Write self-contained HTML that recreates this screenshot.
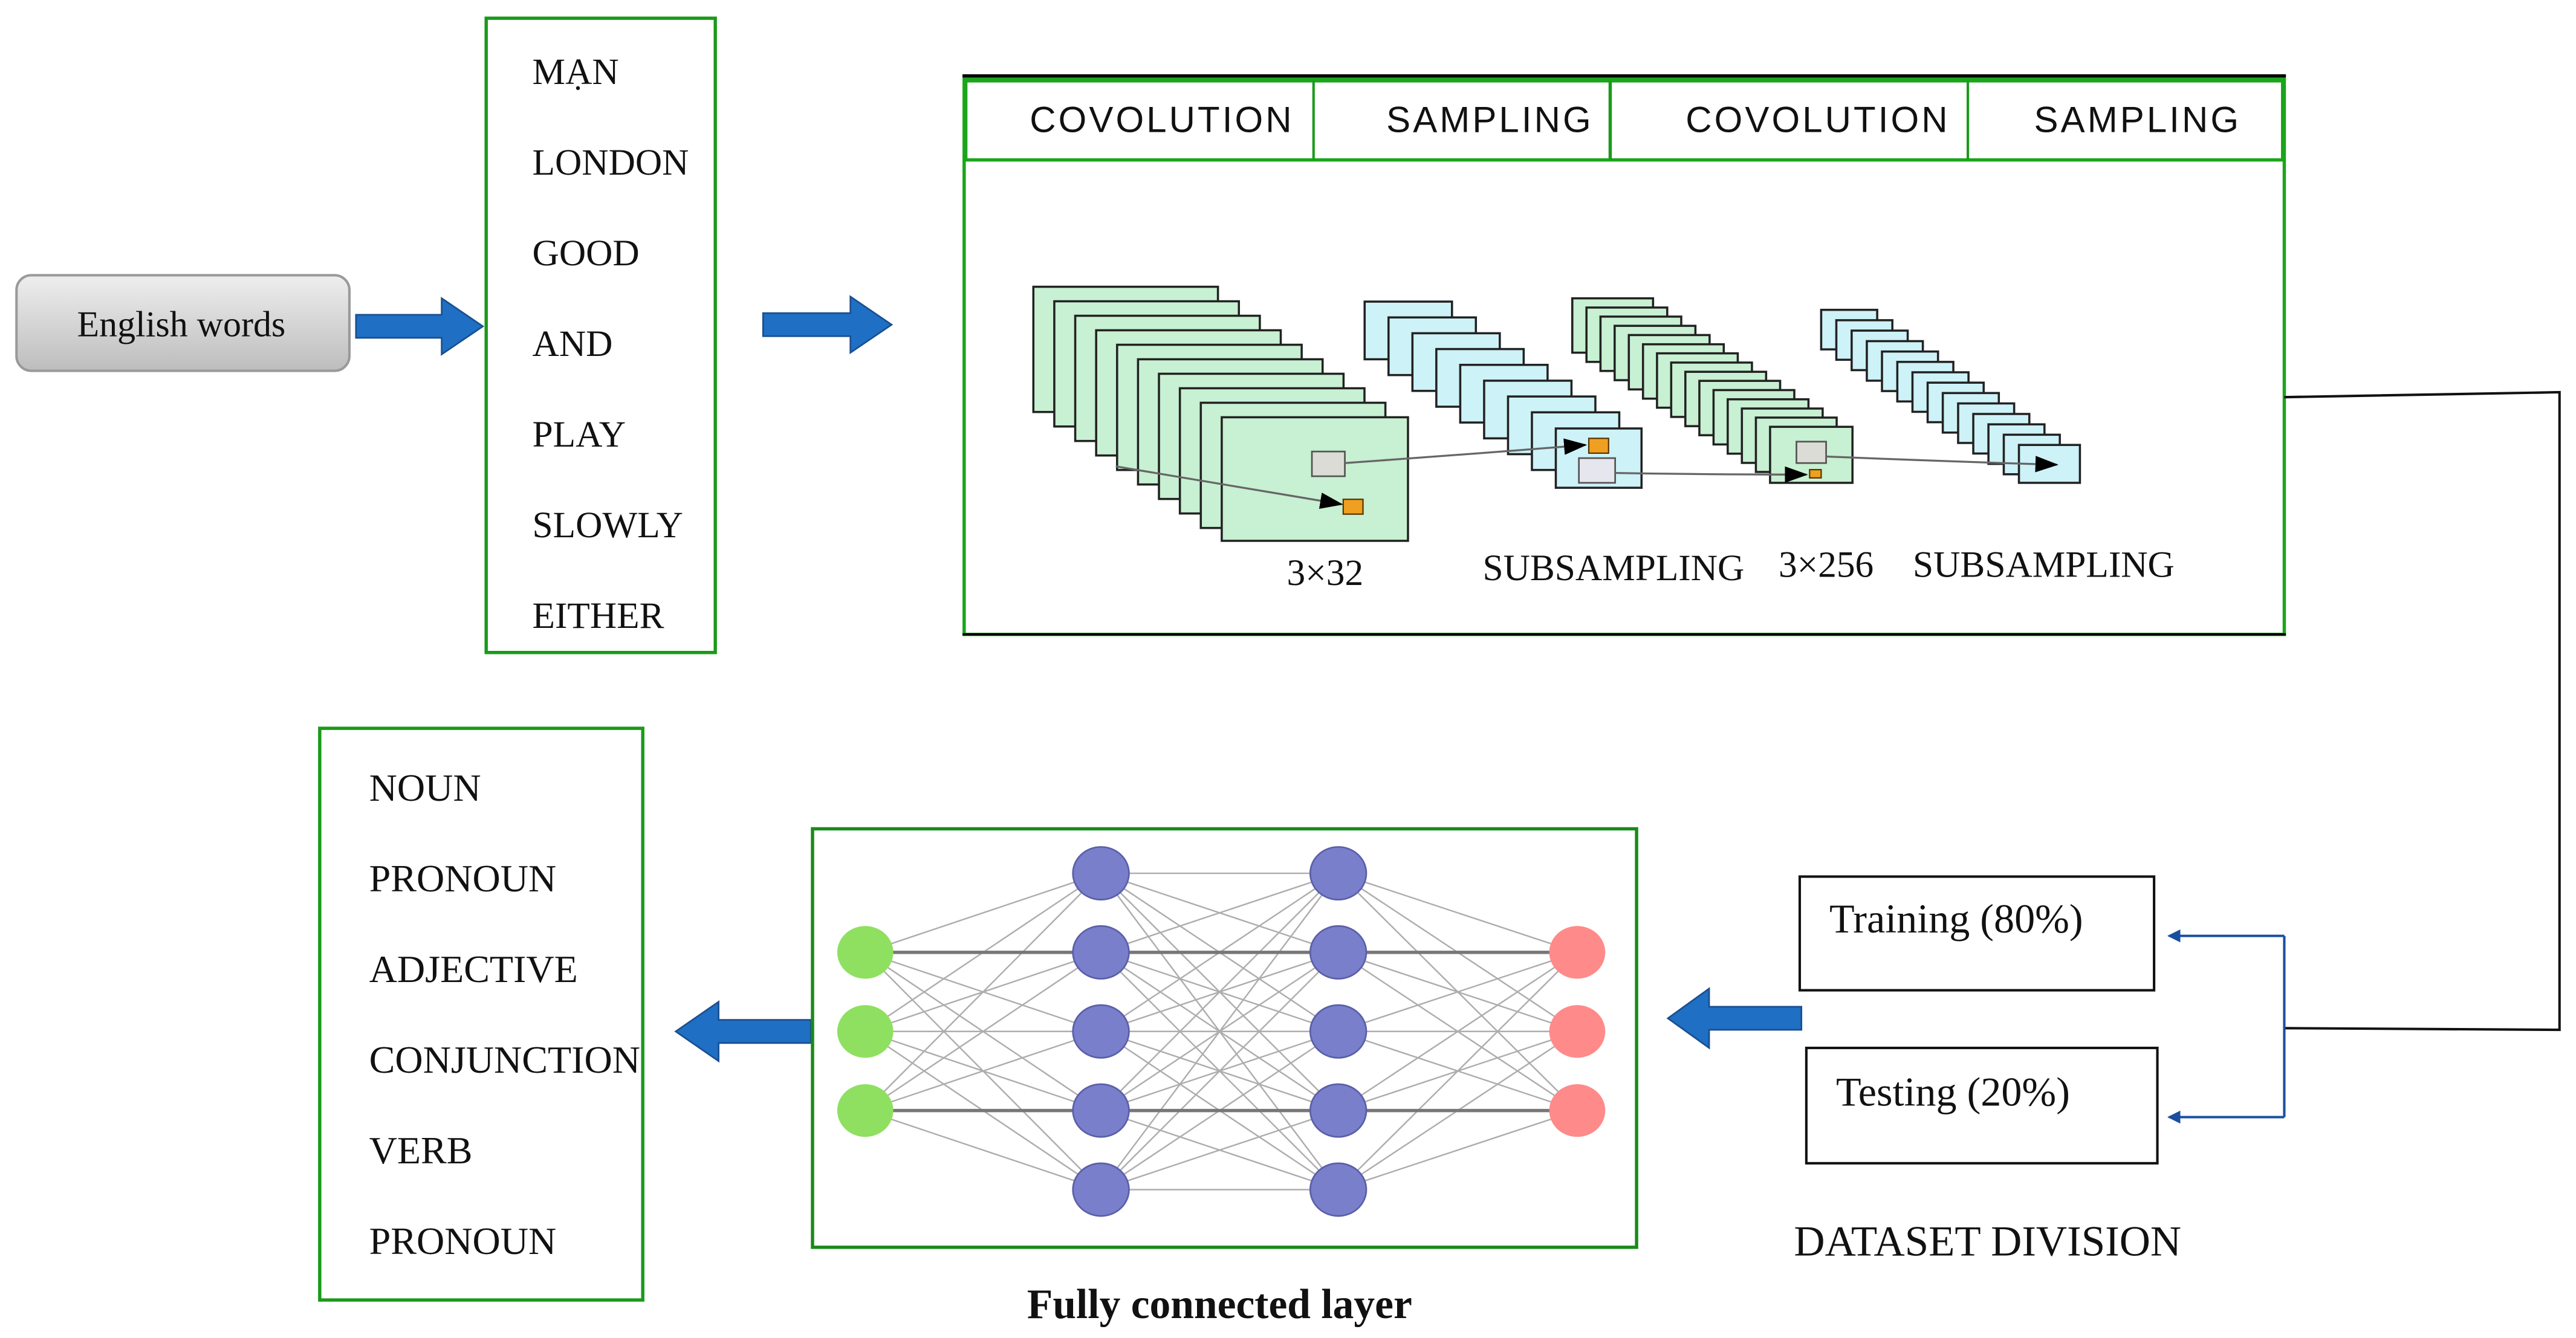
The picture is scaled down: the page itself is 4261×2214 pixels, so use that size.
<!DOCTYPE html>
<html><head><meta charset="utf-8"><style>html,body{margin:0;padding:0;background:#fff}svg{display:block}</style></head>
<body>
<svg width="4261" height="2214" viewBox="0 0 1563 812" xmlns="http://www.w3.org/2000/svg" font-family="Liberation Serif, serif">
<defs>
<linearGradient id="btn" x1="0" y1="0" x2="0" y2="1"><stop offset="0" stop-color="#eeeeee"/><stop offset="1" stop-color="#bdbdbd"/></linearGradient>
<marker id="ah" markerWidth="8" markerHeight="8" refX="7" refY="4" orient="auto" markerUnits="userSpaceOnUse"><path d="M0,0 L8,4 L0,8 z" fill="#1a4fa0"/></marker>
<marker id="bh" markerWidth="14" markerHeight="10" refX="13" refY="5" orient="auto" markerUnits="userSpaceOnUse"><path d="M0,0 L14,5 L0,10 z" fill="#000"/></marker>
</defs>
<rect width="1563" height="812" fill="#fff"/>
<rect x="10" y="167" width="202" height="58" rx="9" fill="url(#btn)" stroke="#9a9a9a" stroke-width="1.5"/>
<text x="110" y="204" font-size="22" text-anchor="middle" fill="#111">English words</text>
<path d="M216,191 L268,191 L268,181 L293,198 L268,215 L268,205 L216,205 z" fill="#1f6fc4" stroke="#1a4f90" stroke-width="1"/>
<path d="M463,190 L516,190 L516,180 L541,197 L516,214 L516,204 L463,204 z" fill="#1f6fc4" stroke="#1a4f90" stroke-width="1"/>
<rect x="295" y="11" width="139" height="385" fill="#fff" stroke="#1a9a1a" stroke-width="2"/>
<g font-size="22.5" fill="#111">
<text x="323" y="51">MẠN</text><text x="323" y="106">LONDON</text><text x="323" y="161">GOOD</text><text x="323" y="216">AND</text><text x="323" y="271">PLAY</text><text x="323" y="326">SLOWLY</text><text x="323" y="381">EITHER</text>
</g>
<rect x="585" y="47" width="801" height="338" fill="#fff" stroke="#1aa51a" stroke-width="2"/>
<line x1="584" y1="46" x2="1387" y2="46" stroke="#000" stroke-width="2"/>
<line x1="584" y1="385" x2="1387" y2="385" stroke="#000" stroke-width="1.5"/>
<rect x="586" y="49" width="799" height="48" fill="none" stroke="#1aa51a" stroke-width="2"/>
<line x1="797" y1="49" x2="797" y2="97" stroke="#1a9a1a" stroke-width="1.5"/>
<line x1="977" y1="49" x2="977" y2="97" stroke="#1a9a1a" stroke-width="2"/>
<line x1="1194" y1="49" x2="1194" y2="97" stroke="#1a9a1a" stroke-width="1.5"/>
<g font-family="Liberation Sans, sans-serif" font-size="22" fill="#111" text-anchor="middle" letter-spacing="1.5">
<text x="705" y="80">COVOLUTION</text><text x="904" y="80">SAMPLING</text><text x="1103" y="80">COVOLUTION</text><text x="1297" y="80">SAMPLING</text>
</g>
<g stroke="#222" stroke-width="1.3">
<g fill="#c8f0d2">
<rect x="627" y="174" width="112" height="76"/><rect x="639.7" y="182.8" width="112" height="76"/><rect x="652.4" y="191.6" width="112" height="76"/><rect x="665.1" y="200.4" width="112" height="76"/><rect x="677.8" y="209.2" width="112" height="76"/><rect x="690.5" y="218" width="112" height="76"/><rect x="703.2" y="226.8" width="112" height="76"/><rect x="715.9" y="235.6" width="112" height="76"/><rect x="728.6" y="244.4" width="112" height="76"/><rect x="741.3" y="253.2" width="113" height="75"/>
</g>
<g fill="#cdf2f7">
<rect x="828" y="183" width="53" height="35"/><rect x="842.5" y="192.6" width="53" height="35"/><rect x="857" y="202.2" width="53" height="35"/><rect x="871.5" y="211.8" width="53" height="35"/><rect x="886" y="221.4" width="53" height="35"/><rect x="900.5" y="231" width="53" height="35"/><rect x="915" y="240.6" width="53" height="35"/><rect x="929.5" y="250.2" width="53" height="35"/><rect x="944" y="260" width="52" height="36"/>
</g>
<g fill="#c8f0d2">
<rect x="954" y="181" width="49" height="33"/><rect x="962.6" y="186.6" width="49" height="33"/><rect x="971.1" y="192.1" width="49" height="33"/><rect x="979.7" y="197.7" width="49" height="33"/><rect x="988.3" y="203.3" width="49" height="33"/><rect x="996.9" y="208.9" width="49" height="33"/><rect x="1005.4" y="214.4" width="49" height="33"/><rect x="1014" y="220" width="49" height="33"/><rect x="1022.6" y="225.6" width="49" height="33"/><rect x="1031.1" y="231.1" width="49" height="33"/><rect x="1039.7" y="236.7" width="49" height="33"/><rect x="1048.3" y="242.3" width="49" height="33"/><rect x="1056.9" y="247.9" width="49" height="33"/><rect x="1065.4" y="253.4" width="49" height="33"/><rect x="1074" y="259" width="50" height="34"/>
</g>
<g fill="#cdf2f7">
<rect x="1105" y="188" width="34" height="24"/><rect x="1114.2" y="194.3" width="34" height="24"/><rect x="1123.5" y="200.6" width="34" height="24"/><rect x="1132.7" y="207" width="34" height="24"/><rect x="1141.9" y="213.3" width="34" height="24"/><rect x="1151.2" y="219.6" width="34" height="24"/><rect x="1160.4" y="225.9" width="34" height="24"/><rect x="1169.6" y="232.2" width="34" height="24"/><rect x="1178.8" y="238.5" width="34" height="24"/><rect x="1188.1" y="244.8" width="34" height="24"/><rect x="1197.3" y="251.2" width="34" height="24"/><rect x="1206.5" y="257.5" width="34" height="24"/><rect x="1215.8" y="263.8" width="34" height="24"/><rect x="1225" y="270" width="37" height="23"/>
</g>
</g>
<g stroke="#555" stroke-width="1">
<rect x="796" y="274" width="20" height="15" fill="#dcdcd6"/>
<rect x="958" y="278" width="22" height="15" fill="#e6e6ee"/>
<rect x="1090" y="268" width="18" height="13" fill="#dcdcd6"/>
</g>
<g stroke="#553300" stroke-width="0.8" fill="#f0a020">
<rect x="815" y="303" width="12" height="9"/><rect x="964" y="266" width="12" height="9"/><rect x="1098" y="285" width="7" height="5"/>
</g>
<g stroke="#666" stroke-width="1.2" fill="none">
<path d="M677,283 L814,306" marker-end="url(#bh)"/>
<path d="M816,281 Q900,275 962,270" marker-end="url(#bh)"/>
<path d="M980,287 Q1040,288 1096,288" marker-end="url(#bh)"/>
<path d="M1108,277 Q1180,280 1248,282" marker-end="url(#bh)"/>
</g>
<g font-size="22.5" fill="#111" text-anchor="middle">
<text x="804" y="355">3×32</text><text x="979" y="352">SUBSAMPLING</text><text x="1108" y="350">3×256</text><text x="1240" y="350">SUBSAMPLING</text>
</g>
<polyline points="1386,241 1553,238 1553,625 1386,624" fill="none" stroke="#111" stroke-width="1.5"/>
<line x1="1386" y1="568" x2="1386" y2="678" stroke="#1a4fa0" stroke-width="1.5"/>
<line x1="1386" y1="568" x2="1316" y2="568" stroke="#1a4fa0" stroke-width="1.5" marker-end="url(#ah)"/>
<line x1="1386" y1="678" x2="1316" y2="678" stroke="#1a4fa0" stroke-width="1.5" marker-end="url(#ah)"/>
<rect x="1092" y="532" width="215" height="69" fill="#fff" stroke="#111" stroke-width="1.5"/>
<text x="1110" y="566" font-size="25" fill="#111">Training (80%)</text>
<rect x="1096" y="636" width="213" height="70" fill="#fff" stroke="#111" stroke-width="1.5"/>
<text x="1114" y="671" font-size="25" fill="#111">Testing (20%)</text>
<text x="1206" y="762" font-size="26" fill="#111" text-anchor="middle">DATASET DIVISION</text>
<path d="M1093,611 L1037,611 L1037,600 L1012,618 L1037,636 L1037,625 L1093,625 z" fill="#1f6fc4" stroke="#1a4f90" stroke-width="1"/>
<path d="M492,619 L436,619 L436,608 L410,626 L436,644 L436,633 L492,633 z" fill="#1f6fc4" stroke="#1a4f90" stroke-width="1"/>
<rect x="493" y="503" width="500" height="254" fill="#fff" stroke="#1a8a1a" stroke-width="2"/>
<g stroke="#999" stroke-width="0.9" opacity="0.8">
<path d="M525,578L668,530M525,578L668,578M525,578L668,626M525,578L668,674M525,578L668,722M525,626L668,530M525,626L668,578M525,626L668,626M525,626L668,674M525,626L668,722M525,674L668,530M525,674L668,578M525,674L668,626M525,674L668,674M525,674L668,722"/>
<path d="M668,530L812,530M668,530L812,578M668,530L812,626M668,530L812,674M668,530L812,722M668,578L812,530M668,578L812,578M668,578L812,626M668,578L812,674M668,578L812,722M668,626L812,530M668,626L812,578M668,626L812,626M668,626L812,674M668,626L812,722M668,674L812,530M668,674L812,578M668,674L812,626M668,674L812,674M668,674L812,722M668,722L812,530M668,722L812,578M668,722L812,626M668,722L812,674M668,722L812,722"/>
<path d="M812,530L957,578M812,530L957,626M812,530L957,674M812,578L957,578M812,578L957,626M812,578L957,674M812,626L957,578M812,626L957,626M812,626L957,674M812,674L957,578M812,674L957,626M812,674L957,674M812,722L957,578M812,722L957,626M812,722L957,674"/>
</g>
<g stroke="#777" stroke-width="2"><path d="M525,578H957M525,674H957"/></g>
<g fill="#8fe060"><ellipse cx="525" cy="578" rx="17" ry="16"/><ellipse cx="525" cy="626" rx="17" ry="16"/><ellipse cx="525" cy="674" rx="17" ry="16"/></g>
<g fill="#7a7fcc" stroke="#5a5fa8" stroke-width="1">
<ellipse cx="668" cy="530" rx="17" ry="16"/><ellipse cx="668" cy="578" rx="17" ry="16"/><ellipse cx="668" cy="626" rx="17" ry="16"/><ellipse cx="668" cy="674" rx="17" ry="16"/><ellipse cx="668" cy="722" rx="17" ry="16"/>
<ellipse cx="812" cy="530" rx="17" ry="16"/><ellipse cx="812" cy="578" rx="17" ry="16"/><ellipse cx="812" cy="626" rx="17" ry="16"/><ellipse cx="812" cy="674" rx="17" ry="16"/><ellipse cx="812" cy="722" rx="17" ry="16"/>
</g>
<g fill="#ff8a8a"><ellipse cx="957" cy="578" rx="17" ry="16"/><ellipse cx="957" cy="626" rx="17" ry="16"/><ellipse cx="957" cy="674" rx="17" ry="16"/></g>
<text x="740" y="800" font-size="25.5" font-weight="bold" fill="#111" text-anchor="middle">Fully connected layer</text>
<rect x="194" y="442" width="196" height="347" fill="#fff" stroke="#1a9a1a" stroke-width="2"/>
<g font-size="23.5" fill="#111">
<text x="224" y="486">NOUN</text><text x="224" y="541">PRONOUN</text><text x="224" y="596">ADJECTIVE</text><text x="224" y="651">CONJUNCTION</text><text x="224" y="706">VERB</text><text x="224" y="761">PRONOUN</text>
</g>
</svg>
</body></html>
